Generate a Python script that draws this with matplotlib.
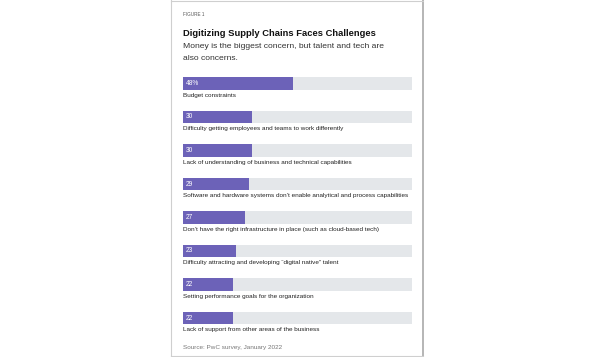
import matplotlib.pyplot as plt
import matplotlib.font_manager as fm
from matplotlib.lines import Line2D

# data
labels = [
    "Budget constraints",
    "Difficulty getting employees and teams to work differently",
    "Lack of understanding of business and technical capabilities",
    "Software and hardware systems don\u2019t enable analytical and process capabilities",
    "Don\u2019t have the right infrastructure in place (such as cloud-based tech)",
    "Difficulty attracting and developing \u201cdigital native\u201d talent",
    "Setting performance goals for the organization",
    "Lack of support from other areas of the business",
]
values = [48, 30, 30, 29, 27, 23, 22, 22]
value_text = ["48%", "30", "30", "29", "27", "23", "22", "22"]

W, H = 595, 357
fig = plt.figure(figsize=(W / 100, H / 100), dpi=100)
fig.patch.set_facecolor("white")
renderer = fig.canvas.get_renderer()

# pick a narrow face if one is around
names = {f.name for f in fm.fontManager.ttflist}
narrow = ["Liberation Sans Narrow", "DejaVu Sans"] if "Liberation Sans Narrow" in names else ["Liberation Sans", "DejaVu Sans"]
sans = ["Liberation Sans", "DejaVu Sans"]


def fx(px):
    return px / W


def fy(py):
    return 1 - py / H


def fit(t, width_px):
    # scale font so the text spans width_px pixels
    w = t.get_window_extent(renderer).width
    t.set_fontsize(t.get_fontsize() * width_px / w)
    return t.get_fontsize()


# card border
border = "#cfcfcf"
fig.add_artist(Line2D([fx(171), fx(171)], [fy(0), fy(356)], color=border, lw=0.8))
fig.add_artist(Line2D([fx(423), fx(423)], [fy(0), fy(356)], color="#b5b5b5", lw=1.4))
fig.add_artist(Line2D([fx(171), fx(423)], [fy(0.5), fy(0.5)], color=border, lw=0.8))
fig.add_artist(Line2D([fx(171), fx(423)], [fy(356), fy(356)], color=border, lw=0.8))

# header text
t = fig.text(fx(183), fy(14), "FIGURE 1", fontsize=4, color="#555555", family=narrow, va="center")
fit(t, 21)
t = fig.text(fx(183), fy(33), "Digitizing Supply Chains Faces Challenges", fontsize=8,
             fontweight="bold", color="#111111", family=narrow, va="center")
fit(t, 194)
t = fig.text(fx(183), fy(47), "Money is the biggest concern, but talent and tech are",
             fontsize=7, color="#333333", family=sans, va="center")
sub = fit(t, 200)
fig.text(fx(183), fy(59), "also concerns.", fontsize=sub, color="#333333", family=sans, va="center")

# bars
ax = fig.add_axes([fx(183), fy(334.75), fx(412) - fx(183), (334.75 - 66.75) / H])
ax.set_xlim(0, 100)
ax.set_ylim(7.5, -0.5)
ax.axis("off")

ypos = list(range(len(values)))
bh = 0.36
ax.barh(ypos, [100] * len(values), height=bh, color="#e4e7ea", left=0)
ax.barh(ypos, values, height=bh, color="#6c62b8", left=0)

# label size from the longest label (spans the full track)
probe = fig.text(0, 0, labels[3], fontsize=6, family=narrow)
lab_size = fit(probe, 228)
probe.remove()

for y, v, lab in zip(ypos, value_text, labels):
    ax.text(1.4, y, v, color="white", fontsize=lab_size * 1.05, family=narrow, va="center", ha="left")
    ax.text(0, y + 0.345, lab, color="#222222", fontsize=lab_size, family=narrow, va="center", ha="left")

t = fig.text(fx(183), fy(347), "Source: PwC survey, January 2022", fontsize=6,
             color="#777777", family=narrow, va="center")
fit(t, 100)

fig.savefig("out.png", dpi=100, facecolor="white")
